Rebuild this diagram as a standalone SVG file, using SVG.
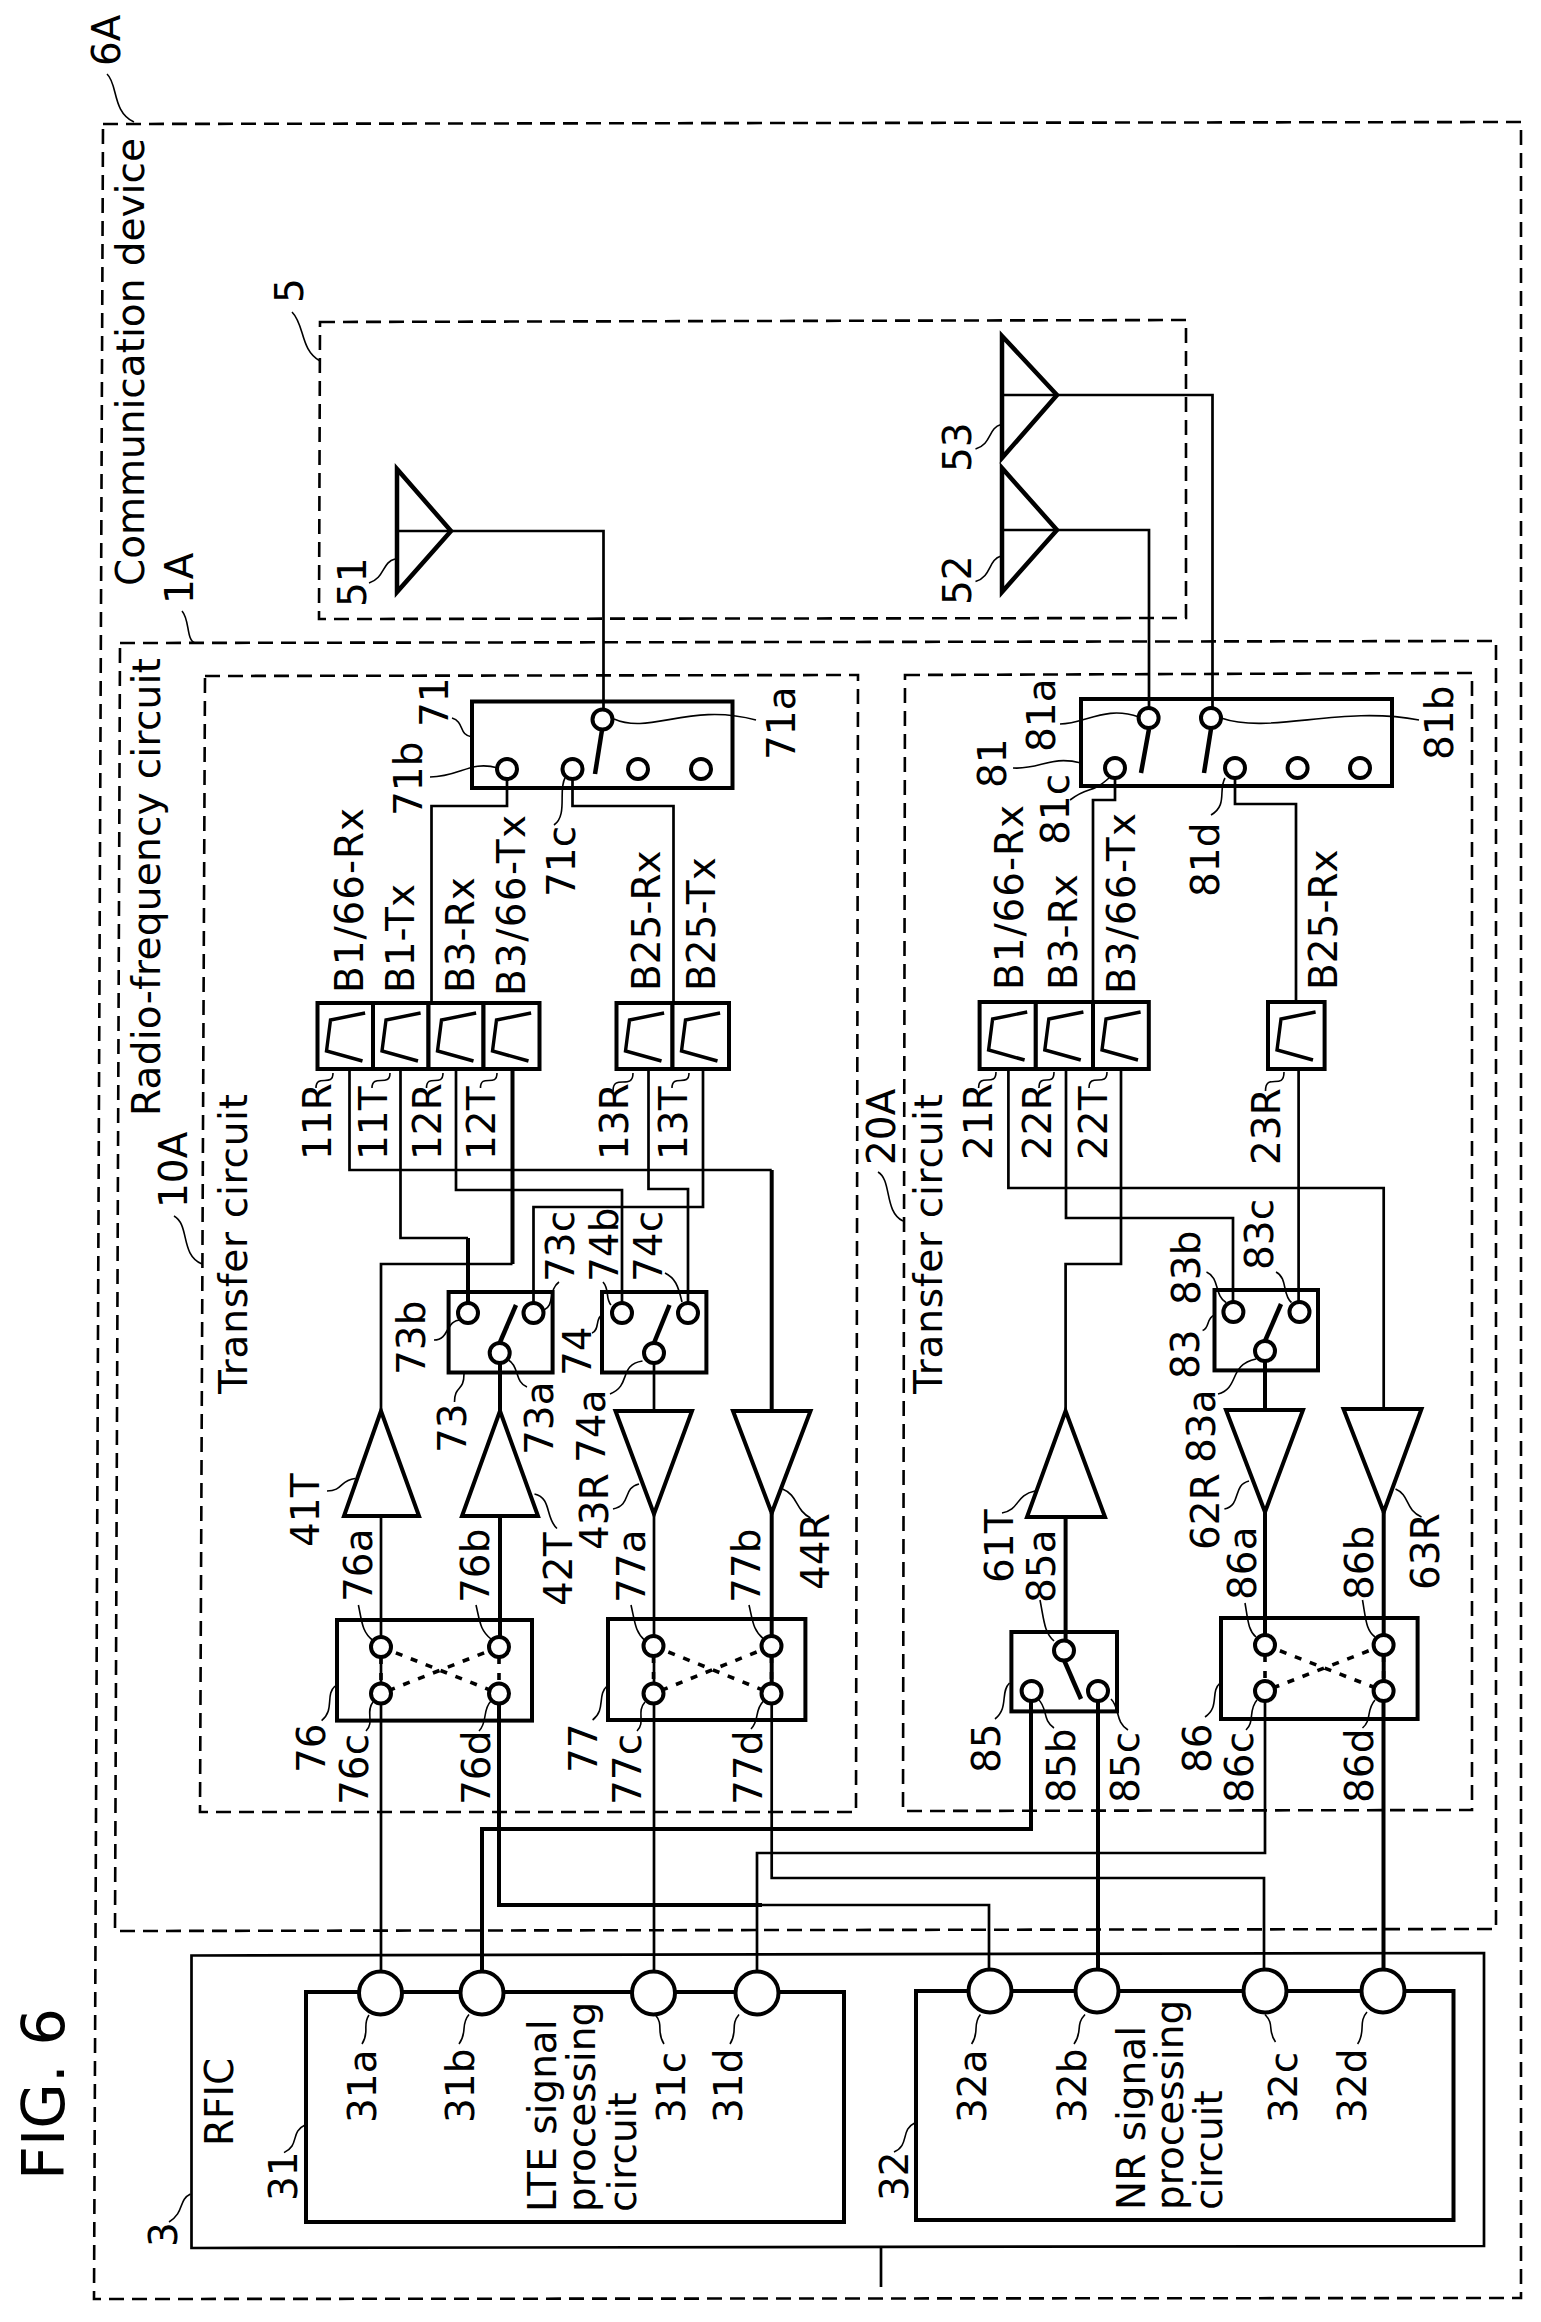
<svg xmlns="http://www.w3.org/2000/svg" width="1541" height="2322" viewBox="0 0 1541 2322">
<style>
text{font-family:"DejaVu Sans","Liberation Sans",sans-serif;font-size:39px;fill:#000}
.fig{font-size:59px}
.d{fill:none;stroke:#000;stroke-width:2.6;stroke-dasharray:15 8}
.w{fill:none;stroke:#000;stroke-width:2.7;stroke-linejoin:miter}
.W{fill:none;stroke:#000;stroke-width:4;stroke-linejoin:miter}
.b{fill:none;stroke:#000;stroke-width:4}
.f{fill:#fff;stroke:#000;stroke-width:4}
.c{fill:#fff;stroke:#000;stroke-width:4}
.l{fill:none;stroke:#000;stroke-width:1.6}
.x{fill:none;stroke:#000;stroke-width:3.6;stroke-dasharray:7 9}
.a{fill:none;stroke:#000;stroke-width:4.5}
</style>
<defs>
<path id="bp" d="M47.6,10 L13,17 L9,48 L45,58" fill="none" stroke="#000" stroke-width="3.4"/>
</defs>
<rect width="1541" height="2322" fill="#fff"/>
<g id="fig-title"><text class="fig" transform="translate(64,2180) rotate(-90)">FIG. 6</text></g>
<g id="device-6A">
<path class="d" d="M103,124 L1521,122 L1521,2298 L94,2299 Z"/>
<path class="l" d="M107,74 C118,84 112,112 134,122"/>
<text transform="translate(120,66) rotate(-90)">6A</text>
<text transform="translate(144,586) rotate(-90)">Communication device</text>
</g>
<g id="circuit-1A">
<path class="d" d="M120,643 L1496,641 L1496,1929 L115,1931 Z"/>
<path class="l" d="M182,611 C190,620 186,640 195,643"/>
<text transform="translate(193,604) rotate(-90)">1A</text>
<text textLength="458" transform="translate(160,1116) rotate(-90)">Radio-frequency circuit</text>
</g>
<g id="antenna-box-5">
<path class="d" d="M320,322 L1186,320 L1186,618 L319,619 Z"/>
<path class="l" d="M292,312 C305,325 300,350 320,361"/>
<text transform="translate(303,303) rotate(-90)">5</text>
</g>
<g id="transfer-10A">
<path class="d" d="M205,676 L858,675 L856,1812 L200,1812 Z"/>
<path class="l" d="M174,1216 C190,1225 180,1255 202,1264"/>
<text transform="translate(187,1208) rotate(-90)">10A</text>
<text textLength="300" transform="translate(247,1394) rotate(-90)">Transfer circuit</text>
</g>
<g id="transfer-20A">
<path class="d" d="M905,675 L1472,673 L1472,1810 L903,1811 Z"/>
<path class="l" d="M878,1172 C892,1180 884,1212 903,1221"/>
<text transform="translate(894.5,1165) rotate(-90)">20A</text>
<text textLength="300" transform="translate(942,1394) rotate(-90)">Transfer circuit</text>
</g>
<g id="connectors">
<path class="w" d="M451,531 H603.5 V719"/>
<path class="w" d="M1057,395 H1212.5 V718"/>
<path class="w" d="M1057,530 H1149 V718"/>
<path class="w" d="M507,769 V806 H431.5 V1003"/>
<path class="w" d="M572.5,769 V806 H673.5 V1003"/>
<path class="w" d="M1115,768 V800 H1093 V1002"/>
<path class="w" d="M1235,768 V804 H1296 V1002"/>
<path class="w" d="M349.5,1069 V1170 H771.7"/>
<path class="W" d="M771.7,1170 V1410"/>
<path class="w" d="M400.5,1069 V1238 H468"/>
<path class="W" d="M468,1238 V1313"/>
<path class="w" d="M456,1069 V1190 H622 V1313"/>
<path class="W" d="M512.5,1069 V1264"/>
<path class="w" d="M512.5,1264 H381 V1411"/>
<path class="w" d="M648.5,1069 V1189 H688 V1313"/>
<path class="w" d="M703,1069 V1207 H533.5 V1313"/>
<path class="W" d="M500,1353 V1411"/>
<path class="w" d="M654,1353 V1411"/>
<path class="w" d="M1008.4,1069 V1188 H1383.7 V1409"/>
<path class="w" d="M1066,1069 V1218 H1233 V1312"/>
<path class="w" d="M1121,1069 V1264 H1065.6 V1411"/>
<path class="w" d="M1298.6,1069 V1312"/>
<path class="W" d="M1265,1351 V1410"/>
<path class="w" d="M381,1516 V1972"/>
<path class="W" d="M500,1516 V1647"/>
<path class="w" d="M654,1514 V1972"/>
<path class="W" d="M771.7,1513 V1694"/>
<path class="W" d="M1065.6,1517 V1650"/>
<path class="W" d="M1265,1512 V1645"/>
<path class="W" d="M1383.7,1512 V1691"/>
<path class="W" d="M499,1693 V1905 H762"/>
<path class="w" d="M762,1905 H989 V1970"/>
<path class="W" d="M482,1972 V1829 H1031 V1691"/>
<path class="W" d="M1098,1691 V1970"/>
<path class="W" d="M1383.5,1691 V1970"/>
<path class="w" d="M1265,1691 V1853 H757 V1972"/>
<path class="w" d="M771.7,1694 V1878 H1264 V1970"/>
</g>
<g id="antenna-51">
<path class="a" d="M397,469 L451,531 L397,592 Z"/><path class="w" d="M397,531 H451"/>
<path class="l" d="M369,583 C385,578 382,562 395,559"/>
<text transform="translate(366,607) rotate(-90)">51</text>
</g>
<g id="antenna-52">
<path class="a" d="M1002,468 L1057,530 L1002,592 Z"/><path class="w" d="M1002,530 H1057"/>
<path class="l" d="M975.5,581.6 C992,576 988,560 1001,556"/>
<text transform="translate(970.6,605) rotate(-90)">52</text>
</g>
<g id="antenna-53">
<path class="a" d="M1002,336 L1057,395 L1002,458 Z"/><path class="w" d="M1002,395 H1057"/>
<path class="l" d="M975.5,449 C992,444 988,428 1001,424.5"/>
<text transform="translate(970.6,472) rotate(-90)">53</text>
</g>
<g id="switch-71">
<rect class="b" x="472" y="701.5" width="260.5" height="86.5"/>
<path class="a" d="M602,730 L595,774"/>
<circle class="c" cx="602.5" cy="719.5" r="10"/><circle class="c" cx="507" cy="769" r="10"/><circle class="c" cx="572.5" cy="769" r="10"/><circle class="c" cx="638" cy="769" r="10"/><circle class="c" cx="701" cy="769" r="10"/>
<path class="l" d="M452,718 C465,722 458,735 472,737"/>
<path class="l" d="M430,777 C460,777 470,760 498,768"/>
<path class="l" d="M565,778 C558,790 568,815 554,825"/>
<path class="l" d="M614,719 C650,735 690,702 756,720"/>
<text transform="translate(448,727) rotate(-90)">71</text>
<text transform="translate(422,816) rotate(-90)">71b</text>
<text transform="translate(575,897) rotate(-90)">71c</text>
<text transform="translate(795,760) rotate(-90)">71a</text>
</g>
<g id="switch-81">
<rect class="b" x="1081" y="699" width="311" height="87"/>
<path class="a" d="M1149,729 L1141,773 M1211,729 L1204,773"/>
<circle class="c" cx="1148.6" cy="718" r="10"/><circle class="c" cx="1211" cy="718" r="10"/><circle class="c" cx="1115" cy="768" r="10"/><circle class="c" cx="1235" cy="768" r="10"/><circle class="c" cx="1297.6" cy="768" r="10"/><circle class="c" cx="1360" cy="768" r="10"/>
<path class="l" d="M1060,724 C1085,724 1105,705 1139,717"/>
<path class="l" d="M1013,768 C1040,770 1050,755 1081,763"/>
<path class="l" d="M1070,800 C1090,785 1090,795 1109,778"/>
<path class="l" d="M1225,778 C1218,790 1228,805 1211,815"/>
<path class="l" d="M1221,718 C1270,735 1340,705 1419,720"/>
<text transform="translate(1006,788) rotate(-90)">81</text>
<text transform="translate(1055,752) rotate(-90)">81a</text>
<text transform="translate(1069,845) rotate(-90)">81c</text>
<text transform="translate(1453,760) rotate(-90)">81b</text>
<text transform="translate(1219,897) rotate(-90)">81d</text>
</g>
<g id="filter-11R"><rect class="f" x="317.5" y="1003" width="55.5" height="66"/><use href="#bp" x="317.5" y="1003"/><path class="l" d="M316,1088 C316,1073 333,1088 333,1073"/><text transform="translate(331,1160) rotate(-90)">11R</text><text textLength="185" transform="translate(362.7,993) rotate(-90)">B1/66-Rx</text></g>
<g id="filter-11T"><rect class="f" x="373" y="1003" width="55.5" height="66"/><use href="#bp" x="373" y="1003"/><path class="l" d="M372,1088 C372,1073 390,1088 390,1073"/><text transform="translate(387,1160) rotate(-90)">11T</text><text transform="translate(414,993) rotate(-90)">B1-Tx</text></g>
<g id="filter-12R"><rect class="f" x="428.5" y="1003" width="55" height="66"/><use href="#bp" x="428.5" y="1003"/><path class="l" d="M426.5,1088 C426.5,1073 443,1088 443,1073"/><text transform="translate(441,1160) rotate(-90)">12R</text><text transform="translate(474,993) rotate(-90)">B3-Rx</text></g>
<g id="filter-12T"><rect class="f" x="483.5" y="1003" width="56" height="66"/><use href="#bp" x="483.5" y="1003"/><path class="l" d="M480.5,1088 C480.5,1073 497,1088 497,1073"/><text transform="translate(495,1160) rotate(-90)">12T</text><text textLength="181" transform="translate(525,996) rotate(-90)">B3/66-Tx</text></g>
<g id="filter-13R"><rect class="f" x="616.5" y="1003" width="56" height="66"/><use href="#bp" x="616.5" y="1003"/><path class="l" d="M613,1091 C613,1073 633,1091 633,1073"/><text transform="translate(628,1160) rotate(-90)">13R</text><text transform="translate(660,991) rotate(-90)">B25-Rx</text></g>
<g id="filter-13T"><rect class="f" x="672.5" y="1003" width="56.5" height="66"/><use href="#bp" x="672.5" y="1003"/><path class="l" d="M672,1088 C672,1073 689,1088 689,1073"/><text transform="translate(687,1160) rotate(-90)">13T</text><text transform="translate(715,991) rotate(-90)">B25-Tx</text></g>
<g id="filter-21R"><rect class="f" x="979.6" y="1002" width="56.2" height="67"/><use href="#bp" x="979.6" y="1002"/><path class="l" d="M978.6,1088 C978.6,1072 996,1088 996,1072"/><text transform="translate(992,1160) rotate(-90)">21R</text><text textLength="185" transform="translate(1023,990) rotate(-90)">B1/66-Rx</text></g>
<g id="filter-22R"><rect class="f" x="1035.8" y="1002" width="57.2" height="67"/><use href="#bp" x="1035.8" y="1002"/><path class="l" d="M1039,1088 C1039,1072 1054,1088 1054,1072"/><text transform="translate(1051,1160) rotate(-90)">22R</text><text transform="translate(1077,990) rotate(-90)">B3-Rx</text></g>
<g id="filter-22T"><rect class="f" x="1093" y="1002" width="55.8" height="67"/><use href="#bp" x="1093" y="1002"/><path class="l" d="M1089,1088 C1089,1072 1107,1088 1107,1072"/><text transform="translate(1107,1160) rotate(-90)">22T</text><text textLength="181" transform="translate(1134.6,994) rotate(-90)">B3/66-Tx</text></g>
<g id="filter-23R"><rect class="f" x="1268" y="1002" width="56.6" height="67"/><use href="#bp" x="1268" y="1002"/><path class="l" d="M1265.5,1091 C1265.5,1072 1284,1091 1284,1072"/><text transform="translate(1280,1165) rotate(-90)">23R</text><text transform="translate(1337,990) rotate(-90)">B25-Rx</text></g>
<g id="switch-73">
<rect class="b" x="448.6" y="1292" width="104" height="80.5"/>
<path class="a" d="M499.7,1343 L516,1305"/>
<circle class="c" cx="468" cy="1313" r="10"/><circle class="c" cx="533.5" cy="1313" r="10"/><circle class="c" cx="499.7" cy="1353" r="10"/>
<path class="l" d="M434,1340 C450,1340 445,1320 461,1320"/>
<path class="l" d="M454.5,1402 C454.5,1385 464,1392 464,1374"/>
<path class="l" d="M506.5,1359 C520,1365 514,1382 527,1387"/>
<path class="l" d="M544,1310 C555,1305 548,1290 559,1282"/>
<text transform="translate(425,1375) rotate(-90)">73b</text>
<text transform="translate(466,1453) rotate(-90)">73</text>
<text transform="translate(553,1455) rotate(-90)">73a</text>
<text transform="translate(574,1282) rotate(-90)">73c</text>
</g>
<g id="switch-74">
<rect class="b" x="602" y="1292" width="104.4" height="80.5"/>
<path class="a" d="M654,1343 L669.5,1305"/>
<circle class="c" cx="622" cy="1313" r="10"/><circle class="c" cx="688" cy="1313" r="10"/><circle class="c" cx="654" cy="1353" r="10"/>
<path class="l" d="M592,1333 C600,1330 595,1318 602,1315"/>
<path class="l" d="M610,1394 C632,1385 618,1365 642.5,1361"/>
<path class="l" d="M611,1305 C605,1298 610,1290 603,1282"/>
<path class="l" d="M682,1302 C678,1285 675,1278 665,1273"/>
<text transform="translate(591,1376) rotate(-90)">74</text>
<text transform="translate(605,1463) rotate(-90)">74a</text>
<text transform="translate(618,1282) rotate(-90)">74b</text>
<text transform="translate(662,1282) rotate(-90)">74c</text>
</g>
<g id="switch-83">
<rect class="b" x="1214.5" y="1290" width="103.5" height="80.4"/>
<path class="a" d="M1265,1341 L1281,1304"/>
<circle class="c" cx="1233.4" cy="1312" r="10"/><circle class="c" cx="1299.5" cy="1312" r="10"/><circle class="c" cx="1265" cy="1351" r="10"/>
<path class="l" d="M1202.6,1330.6 C1210,1328 1206,1318 1214.5,1315"/>
<path class="l" d="M1206.5,1272 C1220,1278 1214,1295 1226,1302.5"/>
<path class="l" d="M1276,1272 C1288,1278 1282,1295 1291.5,1302.5"/>
<path class="l" d="M1218,1394 C1240,1388 1228,1365 1256,1359"/>
<text transform="translate(1199,1379) rotate(-90)">83</text>
<text transform="translate(1200,1305) rotate(-90)">83b</text>
<text transform="translate(1272.6,1270) rotate(-90)">83c</text>
<text transform="translate(1214.5,1463) rotate(-90)">83a</text>
</g>
<g id="amp-41T"><path class="f" d="M381,1411 L344,1516 H419 Z"/><path class="l" d="M327,1491 C343,1491 340,1480 355,1478.5"/><text transform="translate(318.5,1547) rotate(-90)">41T</text></g>
<g id="amp-42T"><path class="f" d="M500,1411 L462,1516 H538 Z"/><path class="l" d="M534.5,1494 C552,1498 545,1518 557,1528.5"/><text transform="translate(572,1606) rotate(-90)">42T</text></g>
<g id="amp-43R"><path class="f" d="M615.5,1411 H692 L654,1514 Z"/><path class="l" d="M613,1509 C632,1505 622,1488 639,1484"/><text transform="translate(608,1550) rotate(-90)">43R</text></g>
<g id="amp-44R"><path class="f" d="M733,1411 H810.5 L771.7,1513 Z"/><path class="l" d="M782.5,1489 C798,1495 795,1510 810.5,1518"/><text transform="translate(829,1590) rotate(-90)">44R</text></g>
<g id="amp-61T"><path class="f" d="M1065.6,1411 L1027,1517 H1105 Z"/><path class="l" d="M1002,1513 C1020,1510 1015,1495 1035,1491"/><text transform="translate(1013,1583) rotate(-90)">61T</text></g>
<g id="amp-62R"><path class="f" d="M1226,1410 H1303 L1265,1512 Z"/><path class="l" d="M1224.4,1509 C1242,1505 1232,1485 1249,1481"/><text transform="translate(1219,1550) rotate(-90)">62R</text></g>
<g id="amp-63R"><path class="f" d="M1343.5,1409 H1421.5 L1383.7,1512 Z"/><path class="l" d="M1395.5,1489 C1410,1495 1405,1510 1421.5,1517"/><text transform="translate(1439,1590) rotate(-90)">63R</text></g>
<g id="switch-76">
<rect class="b" x="337" y="1620" width="195" height="100.6"/>
<path class="x" d="M381,1647 L499,1693.5 M499,1647 L381,1693.5 M381,1657 V1684 M499,1657 V1684"/>
<circle class="c" cx="381" cy="1647" r="10"/><circle class="c" cx="499" cy="1647" r="10"/><circle class="c" cx="381" cy="1693.5" r="10"/><circle class="c" cx="499" cy="1693.5" r="10"/>
<path class="l" d="M358.4,1605 C362,1622 362,1632 373,1640.5"/>
<path class="l" d="M476,1605 C480,1622 480,1630 491,1639"/>
<path class="l" d="M321.6,1720.6 C335,1710 325,1695 335,1686"/>
<path class="l" d="M366,1731 C375,1722 365,1712 373,1702"/>
<path class="l" d="M479,1731 C488,1722 482,1710 491,1701"/>
<text transform="translate(372,1602) rotate(-90)">76a</text>
<text transform="translate(489,1603) rotate(-90)">76b</text>
<text transform="translate(325,1773) rotate(-90)">76</text>
<text transform="translate(368,1805) rotate(-90)">76c</text>
<text transform="translate(489.5,1805) rotate(-90)">76d</text>
</g>
<g id="switch-77">
<rect class="b" x="608" y="1619" width="197.4" height="101"/>
<path class="x" d="M653.5,1646 L771.5,1693.5 M771.5,1646 L653.5,1693.5 M653.5,1656 V1684 M771.5,1656 V1684"/>
<circle class="c" cx="653.5" cy="1646" r="10"/><circle class="c" cx="771.5" cy="1646" r="10"/><circle class="c" cx="653.5" cy="1693.5" r="10"/><circle class="c" cx="771.5" cy="1693.5" r="10"/>
<path class="l" d="M631,1605 C635,1622 635,1632 645,1640.5"/>
<path class="l" d="M749,1605 C753,1622 753,1630 763.5,1639"/>
<path class="l" d="M592.6,1720 C606,1710 597,1695 607,1686"/>
<path class="l" d="M637,1731 C646,1722 636,1712 645,1702"/>
<path class="l" d="M751,1729 C760,1720 754,1710 763.5,1701"/>
<text transform="translate(645,1603) rotate(-90)">77a</text>
<text transform="translate(760,1603) rotate(-90)">77b</text>
<text transform="translate(596.5,1773) rotate(-90)">77</text>
<text transform="translate(641,1805) rotate(-90)">77c</text>
<text transform="translate(762,1805) rotate(-90)">77d</text>
</g>
<g id="switch-85">
<rect class="b" x="1011.4" y="1632" width="105.6" height="79.4"/>
<path class="a" d="M1064,1660 L1081,1699"/>
<circle class="c" cx="1064" cy="1650.6" r="10"/><circle class="c" cx="1031.6" cy="1691" r="10"/><circle class="c" cx="1098" cy="1691" r="10"/>
<path class="l" d="M1040,1600 C1044,1620 1044,1632 1054,1641"/>
<path class="l" d="M995,1719 C1009,1708 1000,1692 1009.5,1683"/>
<path class="l" d="M1038,1699 C1048,1708 1042,1720 1054,1728"/>
<path class="l" d="M1111,1699 C1120,1708 1115,1722 1128,1730"/>
<text transform="translate(1055,1603) rotate(-90)">85a</text>
<text transform="translate(1000,1773) rotate(-90)">85</text>
<text transform="translate(1075,1803) rotate(-90)">85b</text>
<text transform="translate(1139,1803) rotate(-90)">85c</text>
</g>
<g id="switch-86">
<rect class="b" x="1221" y="1618" width="196.6" height="101"/>
<path class="x" d="M1265,1645 L1383.6,1691 M1383.6,1645 L1265,1691 M1265,1655 V1682 M1383.6,1655 V1682"/>
<circle class="c" cx="1265" cy="1645" r="10"/><circle class="c" cx="1383.6" cy="1645" r="10"/><circle class="c" cx="1265" cy="1691" r="10"/><circle class="c" cx="1383.6" cy="1691" r="10"/>
<path class="l" d="M1245,1603 C1248,1620 1248,1630 1256,1637"/>
<path class="l" d="M1362.5,1600 C1366,1620 1366,1630 1375,1637"/>
<path class="l" d="M1205,1717 C1220,1707 1210,1692 1220,1683"/>
<path class="l" d="M1246,1730 C1255,1722 1248,1710 1257,1700"/>
<path class="l" d="M1362.5,1728 C1372,1720 1366,1710 1375,1700"/>
<text transform="translate(1256,1600) rotate(-90)">86a</text>
<text transform="translate(1373,1600) rotate(-90)">86b</text>
<text transform="translate(1211,1773) rotate(-90)">86</text>
<text transform="translate(1253,1803) rotate(-90)">86c</text>
<text transform="translate(1373,1803) rotate(-90)">86d</text>
</g>
<g id="rfic-3">
<path class="w" d="M191.5,1955.5 L1484,1953 V2246 L191.5,2248 Z"/>
<path class="w" d="M881,2247 V2287"/>
<path class="l" d="M169,2222 C185,2212 178,2200 190.5,2194"/>
<text transform="translate(177,2247) rotate(-90)">3</text>
<text transform="translate(233,2146) rotate(-90)">RFIC</text>
</g>
<g id="lte-31">
<rect class="b" x="306" y="1992" width="538" height="230"/>
<circle class="c" cx="380.5" cy="1993" r="21.5"/><circle class="c" cx="482" cy="1993" r="21.5"/><circle class="c" cx="653.5" cy="1993" r="21.5"/><circle class="c" cx="757" cy="1993" r="21.5"/>
<path class="l" d="M362,2044 C370,2032 362,2025 369,2015"/>
<path class="l" d="M459,2044 C468,2032 460,2025 469,2014.5"/>
<path class="l" d="M664,2044 C656,2032 664,2025 655.5,2015"/>
<path class="l" d="M730,2044 C738,2032 730,2025 739,2014.5"/>
<path class="l" d="M284,2152.6 C300,2145 290,2132 305,2125"/>
<text transform="translate(375.6,2123) rotate(-90)">31a</text>
<text transform="translate(474,2123) rotate(-90)">31b</text>
<text transform="translate(685,2123) rotate(-90)">31c</text>
<text transform="translate(742,2123) rotate(-90)">31d</text>
<text transform="translate(297,2201) rotate(-90)">31</text>
<text transform="translate(556,2212) rotate(-90)">LTE signal</text>
<text transform="translate(595,2212) rotate(-90)">processing</text>
<text transform="translate(636,2212) rotate(-90)">circuit</text>
</g>
<g id="nr-32">
<rect class="b" x="916" y="1991" width="537.5" height="229"/>
<circle class="c" cx="990" cy="1991" r="21.5"/><circle class="c" cx="1097" cy="1991" r="21.5"/><circle class="c" cx="1265" cy="1991" r="21.5"/><circle class="c" cx="1383" cy="1991" r="21.5"/>
<path class="l" d="M971.6,2044 C980,2032 972,2025 980.4,2014.5"/>
<path class="l" d="M1074,2044 C1083,2032 1075,2025 1085,2014.5"/>
<path class="l" d="M1275.5,2042 C1267,2030 1275,2025 1265,2014.5"/>
<path class="l" d="M1357.6,2044 C1366,2032 1358,2022 1367,2012"/>
<path class="l" d="M894,2152 C910,2145 900,2130 915,2122.7"/>
<text transform="translate(986,2123) rotate(-90)">32a</text>
<text transform="translate(1086,2123) rotate(-90)">32b</text>
<text transform="translate(1297,2123) rotate(-90)">32c</text>
<text transform="translate(1366,2123) rotate(-90)">32d</text>
<text transform="translate(908,2201) rotate(-90)">32</text>
<text transform="translate(1145,2210) rotate(-90)">NR signal</text>
<text transform="translate(1183,2210) rotate(-90)">processing</text>
<text transform="translate(1222,2210) rotate(-90)">circuit</text>
</g>
</svg>
